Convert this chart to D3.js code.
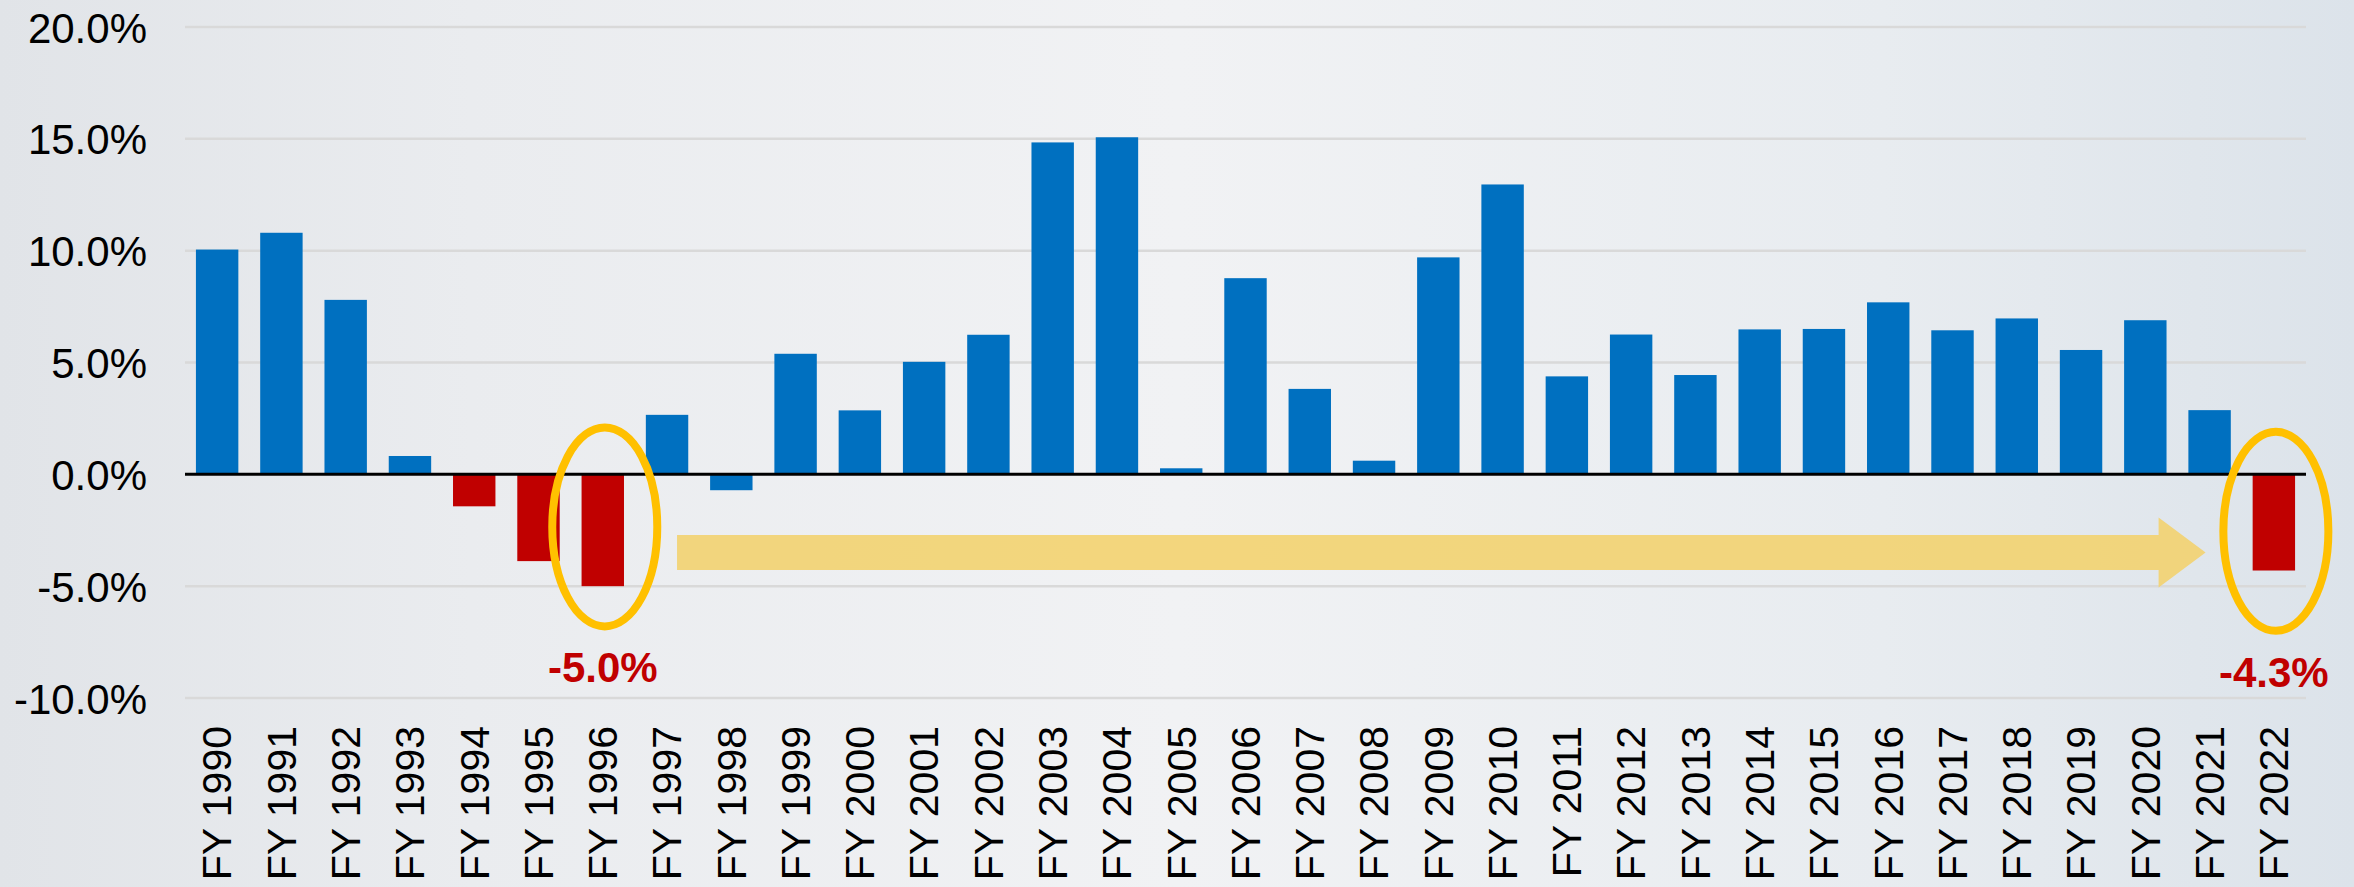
<!DOCTYPE html>
<html>
<head>
<meta charset="utf-8">
<script src="https://cdn.jsdelivr.net/npm/d3@7"></script>
<style>
  html, body { margin: 0; padding: 0; background: #eceff2; overflow: hidden; }
  svg { display: block; }
  text { font-family: "Liberation Sans", Arial, sans-serif; }
</style>
</head>
<body>
<svg id="chart" width="2354" height="887"></svg>
<script>
// fiscal years and yearly change (%)
const years = ['FY 1990', 'FY 1991', 'FY 1992', 'FY 1993', 'FY 1994', 'FY 1995', 'FY 1996',
  'FY 1997', 'FY 1998', 'FY 1999', 'FY 2000', 'FY 2001', 'FY 2002', 'FY 2003', 'FY 2004',
  'FY 2005', 'FY 2006', 'FY 2007', 'FY 2008', 'FY 2009', 'FY 2010', 'FY 2011', 'FY 2012',
  'FY 2013', 'FY 2014', 'FY 2015', 'FY 2016', 'FY 2017', 'FY 2018', 'FY 2019', 'FY 2020',
  'FY 2021', 'FY 2022'];
const change = [10.05, 10.8, 7.8, 0.82, -1.43, -3.88, -5.0,
  2.66, -0.71, 5.39, 2.86, 5.03, 6.24, 14.84, 15.07,
  0.27, 8.77, 3.82, 0.61, 9.7, 12.96, 4.38, 6.25,
  4.44, 6.48, 6.5, 7.69, 6.44, 6.97, 5.56, 6.89,
  2.87, -4.3];
const redYears = ['FY 1994', 'FY 1995', 'FY 1996', 'FY 2022'];
const yTicks = [-10, -5, 0, 5, 10, 15, 20];
const callouts = [
  {year: 'FY 1996', label: '-5.0%', mid: -2.35},
  {year: 'FY 2022', label: '-4.3%', mid: -2.55},
];
const arrowFrom = 'FY 1997';
const arrowTo = 'FY 2021';
const arrowLevel = -3.5;

const svg = d3.select('#chart');
const W = 2354;
const H = 887;
const margin = {left: 185, right: 48, top: 27, bottom: 189};

// background: pale blue-grey wash standing in for the photo
const defs = svg.append('defs');
const bg = defs.append('linearGradient').attr('id', 'bg')
    .attr('x1', 0).attr('y1', 0).attr('x2', 1).attr('y2', 0);
bg.append('stop').attr('offset', '0%').attr('stop-color', '#e1e4e8');
bg.append('stop').attr('offset', '20%').attr('stop-color', '#eaecef');
bg.append('stop').attr('offset', '50%').attr('stop-color', '#f1f2f4');
bg.append('stop').attr('offset', '80%').attr('stop-color', '#e8ecf0');
bg.append('stop').attr('offset', '100%').attr('stop-color', '#dce3ea');
svg.append('rect').attr('width', W).attr('height', H).attr('fill', 'url(#bg)');

const x = d3.scaleBand()
    .domain(years)
    .range([margin.left, W - margin.right])
    .paddingInner(0.34)
    .paddingOuter(0.17);
const y = d3.scaleLinear()
    .domain([-10, 20])
    .range([H - margin.bottom, margin.top]);

// gridlines
svg.append('g').attr('name', 'grid')
    .selectAll('line')
    .data(yTicks.filter((d) => d !== 0))
    .enter()
    .append('line')
    .attr('x1', margin.left)
    .attr('x2', W - margin.right)
    .attr('y1', (d) => y(d))
    .attr('y2', (d) => y(d))
    .style('stroke', '#d9d9d9')
    .style('stroke-width', 2.5);

// y axis labels
const yAxis = svg.append('g')
    .attr('transform', `translate(${margin.left - 38},0)`)
    .call(d3.axisLeft(y).tickValues(yTicks).tickSize(0).tickFormat((d) => d.toFixed(1) + '%'));
yAxis.select('.domain').remove();
yAxis.selectAll('text')
    .attr('x', 0)
    .attr('dy', '0.36em')
    .style('font-size', '42px')
    .style('fill', '#000');

// bars
svg.append('g').attr('name', 'bars')
    .selectAll('rect')
    .data(years.map((yr, i) => ({year: yr, value: change[i]})))
    .enter()
    .append('rect')
    .attr('x', (d) => x(d.year))
    .attr('width', x.bandwidth())
    .attr('y', (d) => y(Math.max(0, d.value)))
    .attr('height', (d) => Math.abs(y(d.value) - y(0)))
    .attr('fill', (d) => redYears.includes(d.year) ? '#c00000' : '#0070c0');

// zero line
svg.append('line')
    .attr('x1', margin.left)
    .attr('x2', W - margin.right)
    .attr('y1', y(0))
    .attr('y2', y(0))
    .style('stroke', '#000')
    .style('stroke-width', 3);

// x axis labels (rotated)
const xAxis = svg.append('g')
    .attr('transform', `translate(0,${y(-10) + 28})`)
    .call(d3.axisBottom(x).tickSize(0));
xAxis.select('.domain').remove();
xAxis.selectAll('text')
    .attr('transform', 'rotate(-90)')
    .attr('x', 0)
    .attr('y', 0)
    .attr('dy', '0.35em')
    .attr('text-anchor', 'end')
    .style('font-size', '41px')
    .style('fill', '#000');

// arrow from the 1996 dip to 2022
const ax0 = x(arrowFrom) + x.bandwidth() / 2 + 10;
const ax1 = x(arrowTo) + x.bandwidth() / 2 - 4;
const ay = y(arrowLevel);
const shaft = 17.5;
const head = 35;
const headLen = 47;
svg.append('path')
    .attr('d', `M${ax0},${ay - shaft} L${ax1 - headLen},${ay - shaft} L${ax1 - headLen},${ay - head}
      L${ax1},${ay} L${ax1 - headLen},${ay + head} L${ax1 - headLen},${ay + shaft} L${ax0},${ay + shaft} Z`)
    .attr('fill', '#f3d26c')
    .attr('opacity', 0.88);

// callout ellipses and labels
const call = svg.append('g').attr('name', 'callouts')
    .selectAll('g')
    .data(callouts)
    .enter()
    .append('g');
call.append('ellipse')
    .attr('cx', (d) => x(d.year) + x.bandwidth() / 2 + 2)
    .attr('cy', (d) => y(d.mid))
    .attr('rx', 52.5)
    .attr('ry', 99.5)
    .attr('fill', 'none')
    .style('stroke', '#ffc000')
    .style('stroke-width', 8);
call.append('text')
    .attr('x', (d) => x(d.year) + x.bandwidth() / 2)
    .attr('y', (d) => y(d.mid) + 103.5 + 52)
    .attr('text-anchor', 'middle')
    .style('font-size', '42px')
    .style('font-weight', 'bold')
    .style('fill', '#c00000')
    .text((d) => d.label);
</script>
</body>
</html>
